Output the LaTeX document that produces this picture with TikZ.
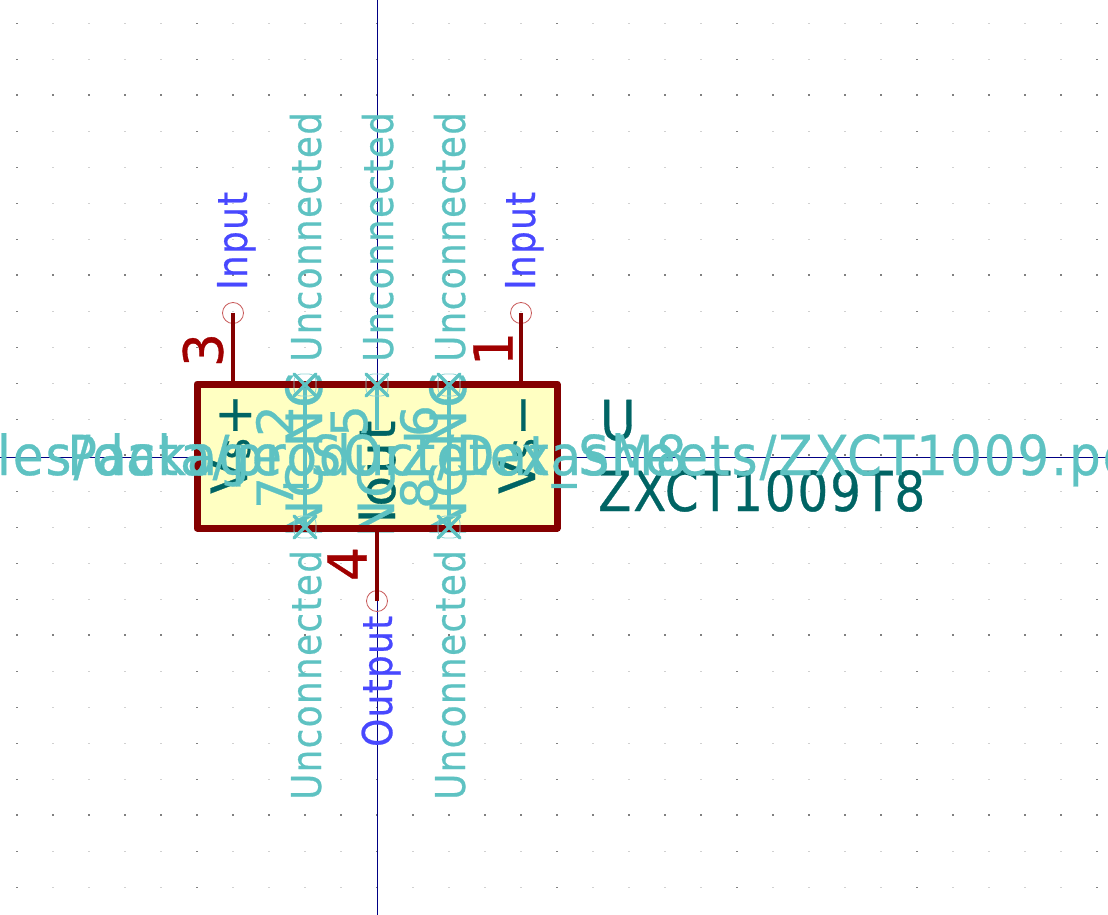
\documentclass[tikz,border=0pt]{standalone}
\usepackage{fontspec}
\setmainfont{DejaVu Sans}[FakeBold=0.6,LetterSpace=4]
\definecolor{pinred}{RGB}{132,0,0}
\definecolor{numred}{RGB}{160,0,0}
\definecolor{boxfill}{RGB}{255,255,194}
\definecolor{darkteal}{RGB}{0,100,100}
\definecolor{paleteal}{RGB}{94,194,194}
\definecolor{netblue}{RGB}{72,72,255}
\definecolor{axisblue}{RGB}{0,0,132}
\tikzset{
 field/.style={inner sep=0pt,text=paleteal,font=\fontsize{55}{55}\selectfont,xscale=.889},
 refield/.style={inner sep=0pt,anchor=base west,text=darkteal,font=\fontsize{55}{55}\selectfont,xscale=.88},
 netname/.style={inner sep=0pt,rotate=90,anchor=base west,xscale=.87,font=\fontsize{41}{41}\selectfont},
 pinnum/.style={inner sep=0pt,rotate=90,text=numred,font=\fontsize{54}{54}\selectfont},
 hidnum/.style={inner sep=0pt,rotate=90,text=paleteal,font=\fontsize{50}{50}\selectfont},
 pinname/.style={inner sep=0pt,rotate=90,text=darkteal,font=\fontsize{50}{50}\selectfont},
 pinline/.style={pinred,line width=3.5pt},
 pinend/.style={draw={rgb,255:red,200;green,90;blue,90},line width=.8pt,circle,minimum size=21pt,inner sep=0pt},
 ncmark/.style={paleteal,line width=3.5pt,line cap=round},
}
\newcommand{\subS}{\raisebox{-3pt}{\fontsize{34}{34}\selectfont S}\kern2pt}
\begin{document}
\begin{tikzpicture}[x=1pt,y=-1pt,line join=round]
 \useasboundingbox (0,0) rectangle (1108,915);
 \clip (0,0) rectangle (1108,915);
 % grid
 \foreach \x in {0,...,30} \foreach \y in {0,...,24}
 \fill[black!18] (17+36*\x-.7,25+36*\y-.7) rectangle +(1.4,-1.4);
 \foreach \x in {0,...,30} \foreach \y in {2,7,12,17,22}
 \fill[black!50] (17+36*\x-.7,25+36*\y-1) rectangle +(1.4,-2);
 \foreach \x in {0,5,10,15,20,25,30} \foreach \y in {0,...,24}
 \fill[black!50] (17+36*\x-1,25+36*\y-.7) rectangle +(2,-1.4);
 \draw[axisblue,line width=1pt] (0,457) -- (1108,457);
 \draw[axisblue,line width=1pt] (377,0) -- (377,915);
 % body
 \fill[boxfill] (197,384) rectangle (557,528);
 \node[pinname,anchor=base] (vplus) at (247,444) {V\subS\raisebox{-4pt}{+}};
 \node[pinname,anchor=base] (vminus) at (535,444) {V\subS\raisebox{-4pt}{−}};
 \node[pinname,anchor=base] (iout) at (395,472) {Iout};
 % hidden pins
 \foreach \x/\n/\m in {305/a/b,449/c/d}{
  \draw[paleteal,line width=3.5pt] (\x,385) -- (\x,526);
  \node[hidnum,anchor=base] (nc\n) at (\x+17,410) {NC};
  \node[hidnum,anchor=base] (nc\m) at (\x+17,500) {NC};
 }
 \draw[paleteal,line width=3.5pt] (377,385) -- (377,430);
 \node[hidnum,anchor=base] (nce) at (394,500) {NC};
 \foreach \x/\y/\t in {293/421/2,293/493/7,367/421/5,437/421/6,437/493/8}
 \node[hidnum,anchor=base] (num\t) at (\x,\y) {\t};
 \draw[pinred,line width=7pt] (197,384) rectangle (557,528);
 % pins
 \foreach \x/\t in {233/3,521/1}{
  \node[pinend] (end\t) at (\x,313) {};
  \coordinate (root\t) at (\x,384);
  \draw[pinline] (end\t.center) -- (root\t);
 }
 \node[pinend] (end4) at (377,601) {};
 \coordinate (root4) at (377,528);
 \draw[pinline] (end4.center) -- (root4);
 \node[pinnum] (num3) at (203,350) {3};
 \node[pinnum] (num1) at (493,349) {1};
 \node[pinnum] (num4) at (347,564) {4};
 % no connect marks
 \foreach \x/\y in {305/385,377/385,449/385,305/527,449/527}{
  \draw[paleteal!70,line width=.8pt,rounded corners=7pt] (\x-11,\y-11) rectangle (\x+11,\y+11);
  \draw[ncmark] (\x-11,\y-11) -- (\x+11,\y+11);
  \draw[ncmark] (\x-11,\y+11) -- (\x+11,\y-11);
 }
 % labels
 \foreach \x/\y in {321/362,393/362,465/362,321/800,465/800}
 \node[netname,text=paleteal] at (\x,\y) {Unconnected};
 \node[netname,text=netblue] (in3) at (247,290) {Input};
 \node[netname,text=netblue] (in1) at (535,290) {Input};
 \node[netname,text=netblue] (out4) at (392,747) {Output};
 % fields
 \node[refield] (ref) at (600,440) {U};
 \node[refield] (val) at (598,511) {ZXCT1009T8};
 \node[field,anchor=base] (fp) at (377,475) {Package\_SO:Zetex\_SM8};
 \node[field,anchor=base east,xscale=1.02] (ds) at (1154,475) {https://www.diodes.com/\_files/data/product/Datasheets/ZXCT1009.pdf};
\end{tikzpicture}
\end{document}
